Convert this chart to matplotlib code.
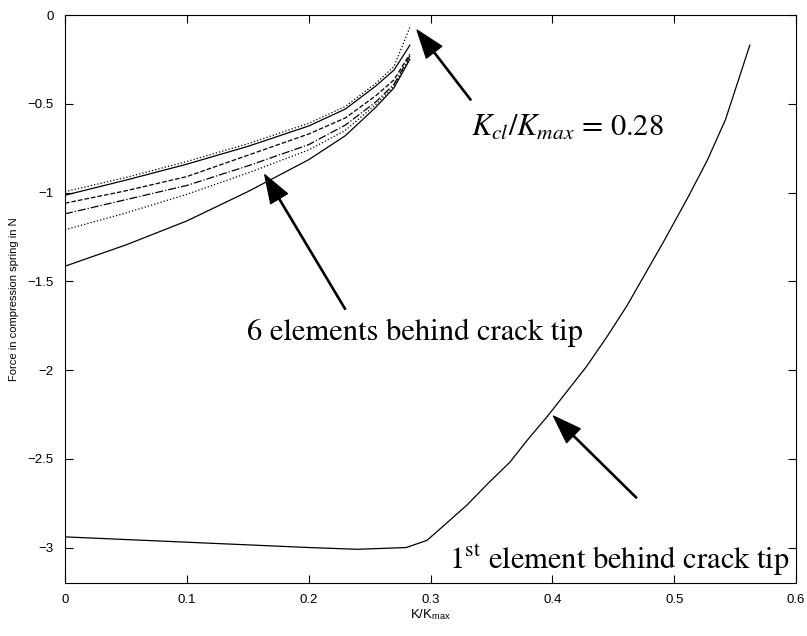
import matplotlib
matplotlib.use('Agg')
import matplotlib.pyplot as plt

# 1st element behind crack tip
x_first = [0.0, 0.05, 0.1, 0.15, 0.2, 0.24, 0.28, 0.297, 0.312, 0.33, 0.347, 0.365, 0.38, 0.396,
           0.412, 0.428, 0.445, 0.461, 0.476, 0.491, 0.511, 0.527, 0.542, 0.552, 0.562]
y_first = [-2.94, -2.955, -2.97, -2.985, -3.0, -3.01, -3.0, -2.96, -2.87, -2.76, -2.64, -2.52, -2.39, -2.26,
           -2.12, -1.98, -1.81, -1.64, -1.46, -1.28, -1.03, -0.82, -0.59, -0.38, -0.17]

# 6 elements behind crack tip (upper group)
x_group = [0.0, 0.05, 0.1, 0.15, 0.2, 0.23, 0.255, 0.27, 0.283]
y_dot_top = [-0.995, -0.915, -0.825, -0.725, -0.61, -0.515, -0.385, -0.29, -0.07]
y_solid_top = [-1.015, -0.93, -0.84, -0.74, -0.625, -0.53, -0.40, -0.31, -0.17]
y_dashed = [-1.06, -0.99, -0.91, -0.79, -0.67, -0.58, -0.455, -0.365, -0.22]
y_dashdot = [-1.12, -1.04, -0.96, -0.85, -0.73, -0.62, -0.49, -0.39, -0.23]
y_dot_low = [-1.21, -1.115, -1.01, -0.89, -0.76, -0.65, -0.505, -0.40, -0.24]
y_solid_low = [-1.415, -1.295, -1.16, -0.995, -0.815, -0.68, -0.52, -0.41, -0.25]

xticks = [0, 0.1, 0.2, 0.3, 0.4, 0.5, 0.6]
xtick_labels = ['0', '0.1', '0.2', '0.3', '0.4', '0.5', '0.6']
yticks = [-3, -2.5, -2, -1.5, -1, -0.5, 0]
ytick_labels = ['\u22123', '\u22122.5', '\u22122', '\u22121.5', '\u22121', '\u22120.5', '0']

plt.rcParams['font.family'] = ['Liberation Sans', 'DejaVu Sans']
plt.rcParams['mathtext.fontset'] = 'stix'

fig = plt.figure(figsize=(8.07, 6.36), dpi=100)
ax = fig.add_axes([0.0805, 0.0833, 0.906, 0.893])

lw = 0.9
ax.plot(x_first, y_first, 'k-', lw=lw)
ax.plot(x_group, y_dot_top, color='k', ls=':', lw=lw)
ax.plot(x_group, y_solid_top, 'k-', lw=lw)
ax.plot(x_group, y_dashed, color='k', ls='--', lw=lw)
ax.plot(x_group, y_dashdot, color='k', ls='-.', lw=lw)
ax.plot(x_group, y_dot_low, color='k', ls=':', lw=lw)
ax.plot(x_group, y_solid_low, 'k-', lw=lw)

ax.set_xlim(0, 0.6)
ax.set_ylim(-3.2, 0)
ax.set_xticks(xticks)
ax.set_xticklabels(xtick_labels)
ax.set_yticks(yticks)
ax.set_yticklabels(ytick_labels)
ax.tick_params(direction='in', top=True, right=True, labelsize=9.5, length=6, width=0.8, pad=8)
for s in ax.spines.values():
    s.set_linewidth(0.8)

ax.set_xlabel('K/K$_{\\mathregular{max}}$', fontsize=9.5, labelpad=1)
ax.set_ylabel('Force in compression spring in N', fontsize=8, labelpad=6)

arrow = dict(facecolor='black', edgecolor='black', width=0.9, headwidth=14, headlength=20, shrink=0)
tfont = dict(family='STIXGeneral', fontsize=22)

ax.annotate('', xy=(0.289, -0.085), xytext=(0.333, -0.478), arrowprops=arrow)
ax.text(0.333, -0.635, '$K_{cl}/K_{max}$ = 0.28', va='center', ha='left', **tfont)

ax.annotate('', xy=(0.164, -0.90), xytext=(0.230, -1.657), arrowprops=arrow)
ax.text(0.287, -1.79, '6 elements behind crack tip', va='center', ha='center', **tfont)

ax.annotate('', xy=(0.401, -2.26), xytext=(0.469, -2.72), arrowprops=arrow)
ax.text(0.595, -3.075, '1$^{\\mathrm{st}}$ element behind crack tip', va='center', ha='right', **tfont)

fig.savefig('out.png', dpi=100)
